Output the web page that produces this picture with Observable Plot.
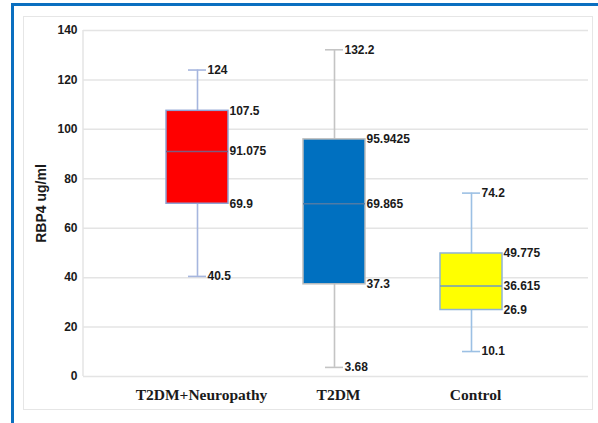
<!DOCTYPE html>
<html><head><meta charset="utf-8">
<script src="https://cdn.jsdelivr.net/npm/d3@7"></script>
<script src="https://cdn.jsdelivr.net/npm/@observablehq/plot@0.6"></script>
<style>
body{margin:0;background:#fff;}
#wrap{position:relative;width:598px;height:423px;overflow:hidden;background:#fff;}
#outer{position:absolute;left:11px;top:3px;width:700px;height:600px;border-left:3px solid #0a6fc0;border-top:3px solid #0a6fc0;}
#inner{position:absolute;left:23px;top:16px;width:568px;height:392px;border:1.5px solid #e6e6e6;}
#chart{position:absolute;left:0;top:0;}
</style></head><body>
<div id="wrap"><div id="outer"></div><div id="inner"></div><div id="chart"></div></div>
<script>
const categories = ["T2DM+Neuropathy", "T2DM", "Control"];
const minValues = [40.5, 3.68, 10.1];
const q1Values = [69.9, 37.3, 26.9];
const medianValues = [91.075, 69.865, 36.615];
const q3Values = [107.5, 95.9425, 49.775];
const maxValues = [124, 132.2, 74.2];
const yTicks = [0, 20, 40, 60, 80, 100, 120, 140];
const yLabel = "RBP4 ug/ml";

const boxFills = ["#ff0000", "#0070c0", "#ffff00"];
const boxStrokes = ["#8ea2d4", "#bdbdbd", "#8fb3d6"];
const whiskerColors = ["#a6b6de", "#c4c4c4", "#9cc0e4"];
const medianColors = ["#7e5a7e", "#4f7ba6", "#6f9bc0"];

const rows = categories.map((c, i) => ({
  cat: c, min: minValues[i], q1: q1Values[i], median: medianValues[i],
  q3: q3Values[i], max: maxValues[i],
  fill: boxFills[i], stroke: boxStrokes[i], whisker: whiskerColors[i], med: medianColors[i]
}));
const boxLabels = rows.flatMap(r => [r.q3, r.median, r.q1].map(v => ({cat: r.cat, v})));
const whiskerLabels = rows.flatMap(r => [r.max, r.min].map(v => ({cat: r.cat, v})));

const W = 598, H = 423, mL = 83, mR = 10, mT = 30, mB = 47;
const labelFont = "Liberation Sans, Arial, sans-serif";

const chart = Plot.plot({
  width: W, height: H,
  marginLeft: mL, marginRight: mR, marginTop: mT, marginBottom: mB,
  style: {background: "transparent", fontFamily: labelFont, fontSize: "12px", color: "#1a1a1a", overflow: "visible"},
  x: {type: "band", domain: categories, paddingInner: 0.547, paddingOuter: 0.6165, align: 0.49, axis: null},
  y: {domain: [0, 140], axis: null},
  color: {type: "identity"},
  marks: [
    Plot.ruleY(yTicks, {y: d => d, stroke: "#e4e4e4", strokeWidth: 1.5}),
    Plot.ruleX(rows, {x: "cat", y1: "min", y2: "q1", stroke: "whisker", strokeWidth: 1.6}),
    Plot.ruleX(rows, {x: "cat", y1: "q3", y2: "max", stroke: "whisker", strokeWidth: 1.6}),
    Plot.tickY(rows, {x: "cat", y: "max", stroke: "whisker", strokeWidth: 1.6, inset: 22}),
    Plot.tickY(rows, {x: "cat", y: "min", stroke: "whisker", strokeWidth: 1.6, inset: 22}),
    Plot.barY(rows, {x: "cat", y1: "q1", y2: "q3", fill: "fill", stroke: "stroke", strokeWidth: 1.5}),
    Plot.tickY(rows, {x: "cat", y: "median", stroke: "med", strokeWidth: 1.5}),
    Plot.text(boxLabels, {x: "cat", y: "v", text: d => String(d.v), dx: 32, textAnchor: "start", fontWeight: "bold", fontSize: 12}),
    Plot.text(whiskerLabels, {x: "cat", y: "v", text: d => String(d.v), dx: 10, textAnchor: "start", fontWeight: "bold", fontSize: 12}),
    Plot.text(yTicks, {y: d => d, text: d => String(d), frameAnchor: "left", dx: -6, textAnchor: "end", fontWeight: "bold", fontSize: 12}),
    Plot.text(categories, {x: d => d, text: d => d, frameAnchor: "bottom", dy: 23, dx: 4, fontFamily: "Liberation Serif, Times New Roman, serif", fontWeight: "bold", fontSize: 15.5}),
    Plot.text([yLabel], {text: d => d, frameAnchor: "left", dx: -42, rotate: -90, textAnchor: "middle", fontWeight: "bold", fontSize: 14})
  ]
});

d3.select(chart).insert("line", ":first-child")
  .attr("x1", mL).attr("x2", mL).attr("y1", mT).attr("y2", H - mB)
  .attr("stroke", "#e4e4e4").attr("stroke-width", 1.5);

document.getElementById("chart").appendChild(chart);
</script>
</body></html>
